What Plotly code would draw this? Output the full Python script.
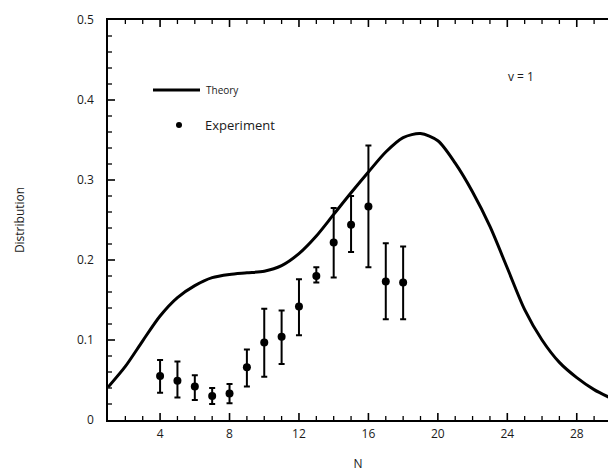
import plotly.graph_objects as go

# Theory curve (distribution vs N)
theory_n = list(range(1, 31))
theory_val = [0.041, 0.067, 0.099, 0.130, 0.153, 0.168, 0.178, 0.182, 0.184, 0.186,
              0.193, 0.208, 0.230, 0.257, 0.284, 0.310, 0.335, 0.353, 0.358, 0.349,
              0.321, 0.285, 0.242, 0.190, 0.138, 0.100, 0.072, 0.053, 0.038, 0.027]

# Experimental points with asymmetric error bars
exp_n = [4, 5, 6, 7, 8, 9, 10, 11, 12, 13, 14, 15, 16, 17, 18]
exp_val = [0.055, 0.049, 0.042, 0.030, 0.033, 0.066, 0.097, 0.104, 0.142, 0.180,
           0.222, 0.244, 0.267, 0.173, 0.172]
exp_hi = [0.075, 0.073, 0.056, 0.040, 0.045, 0.088, 0.139, 0.137, 0.176, 0.191,
          0.265, 0.280, 0.343, 0.221, 0.217]
exp_lo = [0.034, 0.028, 0.025, 0.020, 0.021, 0.042, 0.054, 0.070, 0.106, 0.172,
          0.178, 0.210, 0.191, 0.126, 0.126]

# Axis ticks
x_major = [4, 8, 12, 16, 20, 24, 28]
x_minor = list(range(2, 30))
y_major = [0.1, 0.2, 0.3, 0.4]
y_minor = [round(0.02 * i, 2) for i in range(1, 25)]
y_labels = ["0", "0.1", "0.2", "0.3", "0.4", "0.5"]

err_plus = [h - v for h, v in zip(exp_hi, exp_val)]
err_minus = [v - l for v, l in zip(exp_val, exp_lo)]

X_RANGE = [1, 29.8]
Y_RANGE = [0, 0.5]
PLOT_W, PLOT_H = 500, 400  # plot area in px (size minus margins)

fig = go.Figure()
fig.add_trace(go.Scatter(
    x=theory_n, y=theory_val, mode="lines",
    line=dict(color="black", width=3, shape="spline", smoothing=0.8),
    showlegend=False, hoverinfo="skip"))
fig.add_trace(go.Scatter(
    x=exp_n, y=exp_val, mode="markers",
    marker=dict(color="black", size=8),
    error_y=dict(type="data", symmetric=False, array=err_plus, arrayminus=err_minus,
                 color="black", thickness=2, width=3),
    showlegend=False, hoverinfo="skip"))

# Inward tick marks along bottom, top and left frame edges
def add_x_tick(n, length_px, width):
    h = length_px / PLOT_H
    for y0, y1 in ((0, h), (1, 1 - h)):
        fig.add_shape(type="line", xref="x", yref="paper", x0=n, x1=n, y0=y0, y1=y1,
                      line=dict(color="black", width=width))

def add_y_tick(v, length_px, width):
    fig.add_shape(type="line", xref="paper", yref="y", x0=0, x1=length_px / PLOT_W, y0=v, y1=v,
                  line=dict(color="black", width=width))

for n in x_minor:
    if n in x_major:
        add_x_tick(n, 7, 1.6)
    else:
        add_x_tick(n, 4, 1.3)
for v in y_minor:
    if any(abs(v - m) < 1e-9 for m in y_major):
        add_y_tick(v, 7, 1.6)
    else:
        add_y_tick(v, 4, 1.3)

font_family = "Open Sans"
txt_color = "#1a1a1a"

# Legend drawn by hand in the upper left
fig.add_shape(type="line", xref="paper", yref="paper", x0=0.09, x1=0.184, y0=0.825, y1=0.825,
              line=dict(color="black", width=3))
fig.add_shape(type="circle", xref="paper", yref="paper", x0=0.136, x1=0.148, y0=0.73, y1=0.745,
              fillcolor="black", line=dict(color="black", width=0))
fig.add_annotation(x=0.192, y=0.825, xref="paper", yref="paper", text="Theory", showarrow=False,
                   xanchor="left", yanchor="middle", font=dict(family=font_family, size=10, color=txt_color))
fig.add_annotation(x=0.19, y=0.738, xref="paper", yref="paper", text="Experiment", showarrow=False,
                   xanchor="left", yanchor="middle", font=dict(family=font_family, size=13, color=txt_color))
fig.add_annotation(x=0.825, y=0.858, xref="paper", yref="paper", text="v = 1", showarrow=False,
                   xanchor="center", yanchor="middle", font=dict(family=font_family, size=12, color=txt_color))

fig.update_layout(
    width=608, height=472,
    margin=dict(l=108, r=0, t=20, b=52),
    paper_bgcolor="white", plot_bgcolor="white",
    font=dict(family=font_family, size=12, color=txt_color),
    xaxis=dict(range=X_RANGE, tickvals=x_major, ticks="", showline=True, linecolor="black",
               linewidth=1.5, mirror=True, showgrid=False, zeroline=False, ticklabelstandoff=2,
               automargin=False, title=dict(text="N", font=dict(size=12), standoff=22)),
    yaxis=dict(range=Y_RANGE, tickvals=[0] + y_major + [0.5], ticktext=y_labels, ticks="",
               showline=True, linecolor="black", linewidth=1.5,
               showgrid=False, zeroline=False, ticklabelstandoff=10, automargin=False,
               title=dict(text="Distribution", font=dict(size=12), standoff=50)),
)

fig.write_html("out.html")
